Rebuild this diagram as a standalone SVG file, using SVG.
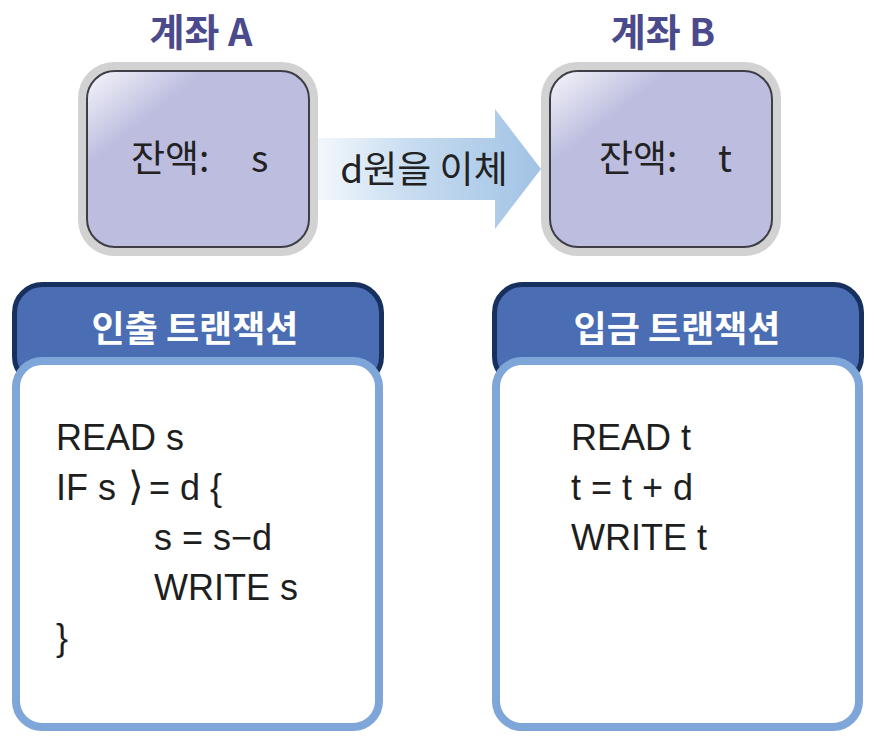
<svg xmlns="http://www.w3.org/2000/svg" width="874" height="746" viewBox="0 0 874 746">
  <defs>
    <linearGradient id="arrowGrad" x1="320" y1="0" x2="540" y2="0" gradientUnits="userSpaceOnUse">
      <stop offset="0" stop-color="#f2f7fc"/>
      <stop offset="0.45" stop-color="#c4daef"/>
      <stop offset="1" stop-color="#a2c3e5"/>
    </linearGradient>
    <linearGradient id="gloss" x1="0" y1="0" x2="0.6" y2="0.6">
      <stop offset="0" stop-color="#ffffff" stop-opacity="0.85"/>
      <stop offset="0.45" stop-color="#ffffff" stop-opacity="0"/>
    </linearGradient>
    <style>
      .title { font-family: "Noto Sans CJK KR", "Liberation Sans", sans-serif; font-weight: bold; font-size: 38px; fill: #4a4a8c; text-anchor: middle; }
      .outer { fill: #d2d2d2; }
      .inner { fill: #bcbddf; stroke: #3e3e46; stroke-width: 2; }
      .gl { fill: url(#gloss); }
      .bal { font-family: "Noto Sans CJK KR", "Liberation Sans", sans-serif; font-size: 37px; fill: #222; }
      .hdr { fill: #4a6db3; stroke: #17305e; stroke-width: 5; }
      .body { fill: #ffffff; stroke: #7ea6d8; stroke-width: 8; }
      .htext { font-family: "Noto Sans CJK KR", "Liberation Sans", sans-serif; font-weight: bold; font-size: 36px; fill: #ffffff; text-anchor: middle; }
      .code { font-family: "Liberation Sans", "Noto Sans CJK KR", sans-serif; font-size: 36px; fill: #1e1e1e; }
      .lbl { font-family: "Noto Sans CJK KR", "Liberation Sans", sans-serif; font-size: 37px; fill: #222; text-anchor: middle; }
    </style>
  </defs>
  <rect width="874" height="746" fill="#ffffff"/>

  <g id="connectors">
    <polygon points="318,138 495,138 495,109 541,169 495,229 495,200 318,200" fill="url(#arrowGrad)"/>
    <text class="lbl" x="424" y="183">d원을 이체</text>
  </g>

  <g id="accountA">
    <text class="title" x="201" y="46">계좌 A</text>
    <rect class="outer" x="78" y="62" width="240" height="194" rx="36"/>
    <rect class="inner" x="87" y="71" width="222" height="176" rx="28"/>
    <rect class="gl" x="88" y="72" width="220" height="174" rx="27"/>
    <text class="bal" x="131" y="172">잔액:</text>
    <text class="bal" x="251" y="172">s</text>
  </g>

  <g id="accountB">
    <text class="title" x="663" y="46">계좌 B</text>
    <rect class="outer" x="541" y="62" width="240" height="194" rx="36"/>
    <rect class="inner" x="550" y="71" width="222" height="176" rx="28"/>
    <rect class="gl" x="551" y="72" width="220" height="174" rx="27"/>
    <text class="bal" x="599" y="172">잔액:</text>
    <text class="bal" x="718" y="172">t</text>
  </g>

  <g id="withdrawTx">
    <rect class="hdr" x="14.5" y="284.5" width="367" height="100" rx="28"/>
    <rect class="body" x="16" y="361" width="363" height="366" rx="26"/>
    <text class="htext" x="195" y="342">인출 트랜잭션</text>
    <text class="code" x="56" y="450">READ s</text>
    <text class="code" y="500"><tspan x="56">IF s</tspan><tspan x="128" font-family="DejaVu Sans, sans-serif" font-size="40">⟩</tspan><tspan x="149">= d {</tspan></text>
    <text class="code" x="154" y="550">s = s−d</text>
    <text class="code" x="154" y="600">WRITE s</text>
    <text class="code" x="56" y="650">}</text>
  </g>

  <g id="depositTx">
    <rect class="hdr" x="494.5" y="284.5" width="367" height="100" rx="28"/>
    <rect class="body" x="496" y="361" width="363" height="366" rx="26"/>
    <text class="htext" x="677" y="342">입금 트랜잭션</text>
    <text class="code" x="571" y="450">READ t</text>
    <text class="code" x="571" y="500">t = t + d</text>
    <text class="code" x="571" y="550">WRITE t</text>
  </g>
</svg>
